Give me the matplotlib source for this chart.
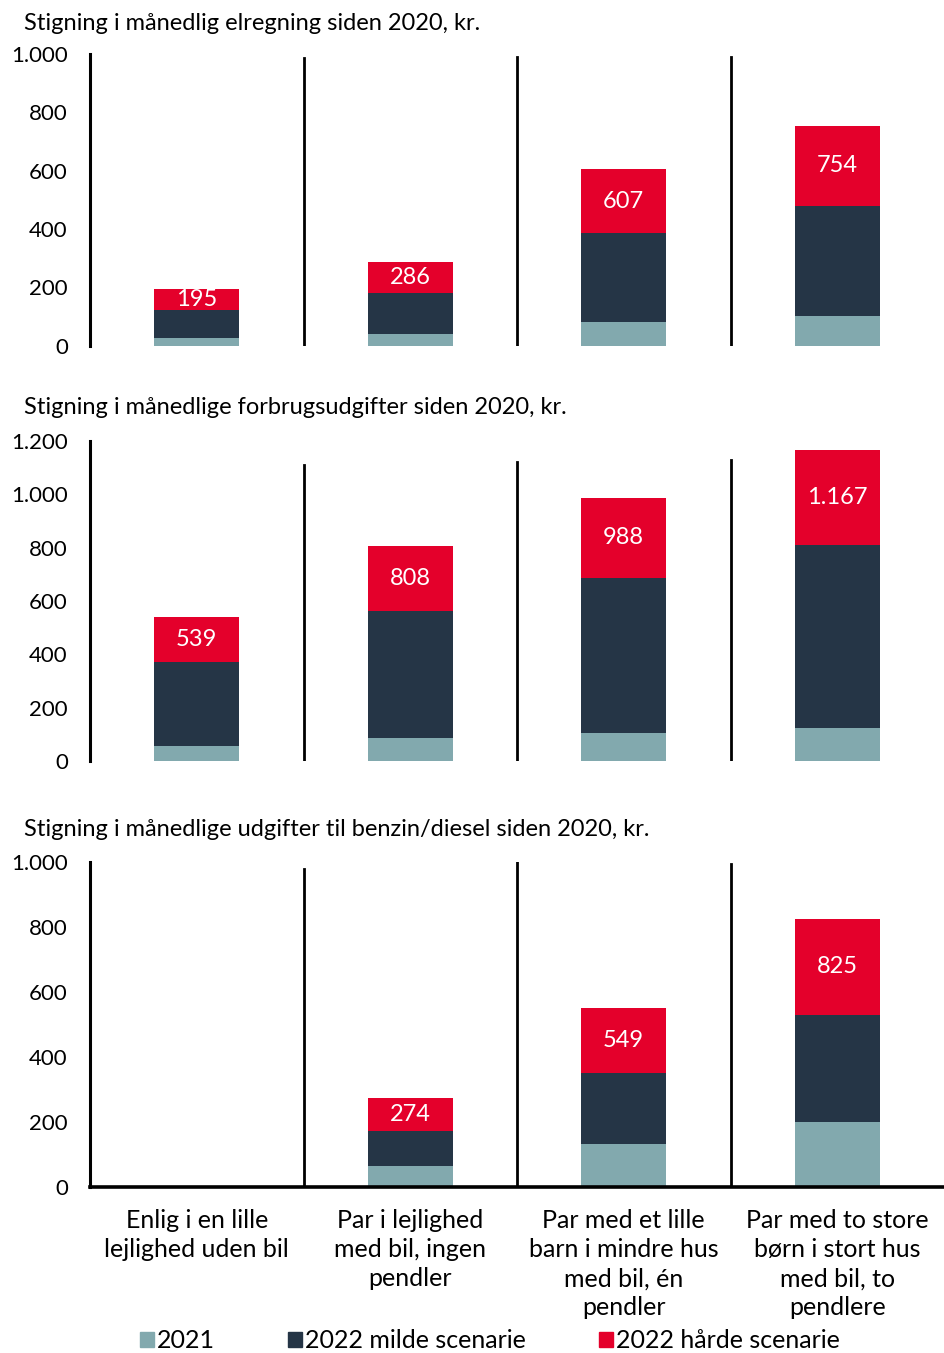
import numpy as np
import matplotlib.pyplot as plt
from matplotlib.patches import Patch

plt.rcParams['font.family'] = ['Lato', 'DejaVu Sans']

categories = ["Enlig i en lille\nlejlighed uden bil",
              "Par i lejlighed\nmed bil, ingen\npendler",
              "Par med et lille\nbarn i mindre hus\nmed bil, én\npendler",
              "Par med to store\nbørn i stort hus\nmed bil, to\npendlere"]
series = ["2021", "2022 milde scenarie", "2022 hårde scenarie"]

# panel 1: elregning
el_2021 = [25, 39, 80, 101]
el_mild = [98, 143, 305, 379]
el_hard = [72, 104, 222, 274]

# panel 2: forbrugsudgifter
fb_2021 = [56, 85, 104, 123]
fb_mild = [316, 476, 581, 687]
fb_hard = [167, 247, 303, 357]

# panel 3: benzin/diesel
bd_2021 = [0, 64, 132, 199]
bd_mild = [0, 109, 219, 330]
bd_hard = [0, 101, 198, 296]

titles = ["Stigning i månedlig elregning siden 2020, kr.",
          "Stigning i månedlige forbrugsudgifter siden 2020, kr.",
          "Stigning i månedlige udgifter til benzin/diesel siden 2020, kr."]
yticks = [[0, 200, 400, 600, 800, 1000],
          [0, 200, 400, 600, 800, 1000, 1200],
          [0, 200, 400, 600, 800, 1000]]

colors = ["#82A9AE", "#253546", "#E4002B"]

W, H = 944, 1353
fig = plt.figure(figsize=(W / 100, H / 100), dpi=100)

# axes boxes in pixels: (top, bottom)
boxes = [(54, 345.7), (441, 761), (862, 1186.7)]
title_y = [24, 407, 830]
sep_tops = [[0.985, 0.99, 0.99], [0.925, 0.934, 0.94], [0.977, 1.0, 0.995]]

def fmt(v):
    return f"{v:,}".replace(",", ".")

data = [(el_2021, el_mild, el_hard), (fb_2021, fb_mild, fb_hard), (bd_2021, bd_mild, bd_hard)]
x = np.arange(len(categories))

for i, (a, b, c) in enumerate(data):
    top, bot = boxes[i]
    ax = fig.add_axes([90 / W, 1 - bot / H, (W - 90) / W, (bot - top) / H])
    a, b, c = np.array(a), np.array(b), np.array(c)
    ax.bar(x, a, 0.4, color=colors[0])
    ax.bar(x, b, 0.4, bottom=a, color=colors[1])
    ax.bar(x, c, 0.4, bottom=a + b, color=colors[2])
    tot = a + b + c
    for xi, ai, bi, ci, t in zip(x, a, b, c, tot):
        if t > 0:
            ax.text(xi, ai + bi + ci / 2, fmt(int(t)), ha='center', va='center',
                    color='white', fontsize=17)
    ax.set_xlim(-0.5, 3.5)
    ax.set_ylim(0, yticks[i][-1])
    ax.set_yticks(yticks[i])
    ax.set_yticklabels([fmt(v) for v in yticks[i]], fontsize=16)
    ax.tick_params(axis='y', length=0, pad=16)
    for s in ['top', 'right']:
        ax.spines[s].set_visible(False)
    ax.spines['left'].set_linewidth(2.2)
    for k, xs in enumerate([0.5, 1.5, 2.5]):
        ax.axvline(xs, 0, sep_tops[i][k], color='black', lw=2.0)
    if i < 2:
        ax.spines['bottom'].set_visible(False)
        ax.set_xticks([])
    else:
        ax.spines['bottom'].set_linewidth(2.6)
        ax.set_xticks(x)
        ax.set_xticklabels(categories, fontsize=18, linespacing=1.32)
        ax.tick_params(axis='x', length=0, pad=16)
    fig.text(24 / W, 1 - title_y[i] / H, titles[i], fontsize=17, va='center', ha='left')

handles = [Patch(color=col) for col in colors]
fig.legend(handles, series, loc='center', bbox_to_anchor=(490 / W, 1 - 1341 / H),
           ncol=3, frameon=False, fontsize=18, handlelength=0.55, handleheight=0.55,
           handletextpad=0.15, columnspacing=2.9, borderpad=0)

fig.savefig("out.png", dpi=100)
